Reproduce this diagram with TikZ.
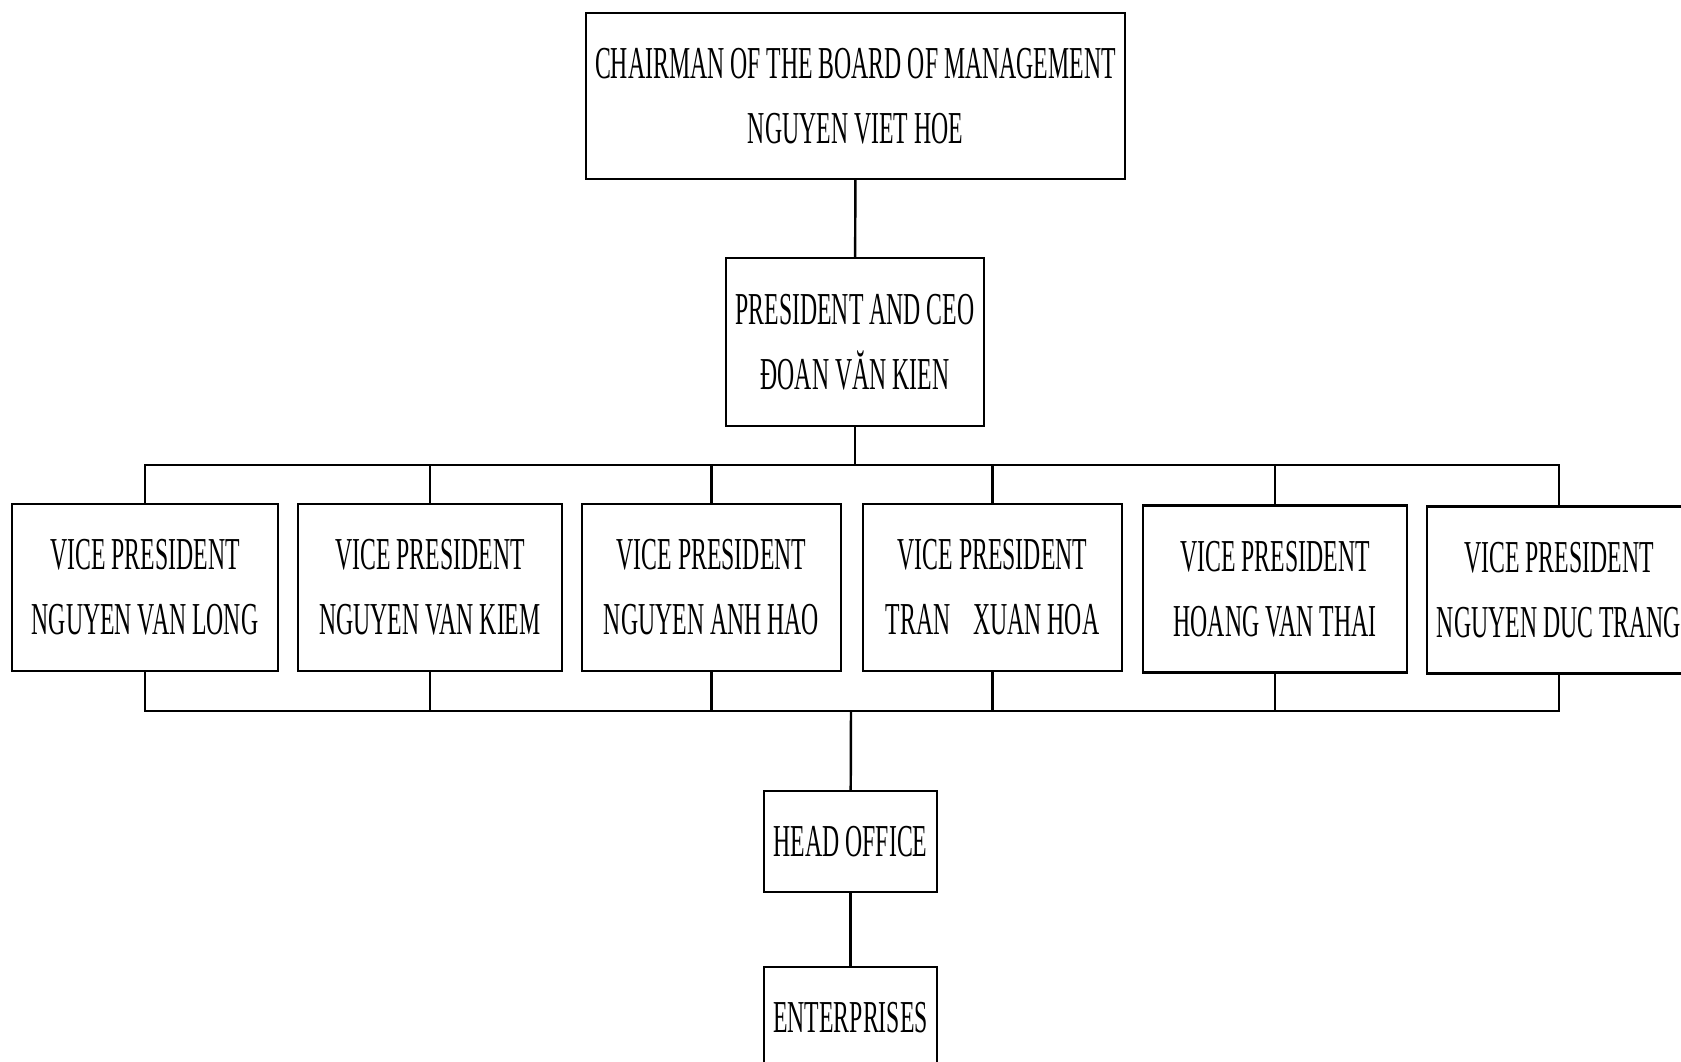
\documentclass[tikz,border=0pt]{standalone}
\usepackage{fontspec}
\setmainfont{Liberation Serif}[FakeStretch=0.52]
\usetikzlibrary{positioning}

\tikzset{
  box/.style={draw, rectangle, line width=0.7pt, align=center, inner xsep=1pt,
    font=\fontsize{13}{18.5}\selectfont},
  link/.style={draw, line width=0.7pt}
}

\begin{document}
\begin{tikzpicture}
\useasboundingbox (0,0) rectangle (16.81,10.61);

% Chairman and president
\node (chair) [box, minimum width=5.39cm, minimum height=1.66cm] at (8.555,9.65) {CHAIRMAN OF THE BOARD OF MANAGEMENT\\ NGUYEN VIET HOE};
\node (pres) [box, minimum width=2.58cm, minimum height=1.68cm] at (8.55,7.19) {PRESIDENT AND CEO\\ ĐOAN VĂN KIEN};
\path[link] (chair) -- (pres);

% Vice presidents
\node (vp1) [box, minimum width=2.66cm, minimum height=1.67cm] at (1.45,4.735) {VICE PRESIDENT\\ NGUYEN VAN LONG};
\node (vp2) [box, minimum width=2.64cm, minimum height=1.67cm] at (4.30,4.735) {VICE PRESIDENT\\ NGUYEN VAN KIEM};
\node (vp3) [box, minimum width=2.59cm, minimum height=1.67cm] at (7.115,4.735) {VICE PRESIDENT\\ NGUYEN ANH HAO};
\node (vp4) [box, minimum width=2.59cm, minimum height=1.67cm] at (9.925,4.735) {VICE PRESIDENT\\ TRAN\enspace XUAN HOA};
\node (vp5) [box, minimum width=2.64cm, minimum height=1.67cm] at (12.75,4.72) {VICE PRESIDENT\\ HOANG VAN THAI};
\node (vp6) [box, minimum width=2.64cm, minimum height=1.67cm] at (15.59,4.71) {VICE PRESIDENT\\ NGUYEN DUC TRANG};

% Barra de cima
\coordinate (topbus) at (8.55,5.96);
\path[link] (pres) -- (topbus);
\path[link] (vp1.north) |- (topbus) -| (vp6.north);
\foreach \v in {vp2,vp3,vp4,vp5}
  \path[link] (\v.north) -- (\v.north |- topbus);

% Barra de baixo
\coordinate (botbus) at (8.51,3.50);
\path[link] (vp1.south) |- (botbus) -| (vp6.south);
\foreach \v in {vp2,vp3,vp4,vp5}
  \path[link] (\v.south) -- (\v.south |- botbus);

% Head office and enterprises
\node (head) [box, minimum width=1.73cm, minimum height=1.01cm] at (8.505,2.195) {HEAD OFFICE};
\node (ent) [box, minimum width=1.73cm, minimum height=1.01cm] at (8.505,0.435) {ENTERPRISES};
\path[link] (botbus) -- (head);
\path[link] (head) -- (ent);

\end{tikzpicture}
\end{document}
